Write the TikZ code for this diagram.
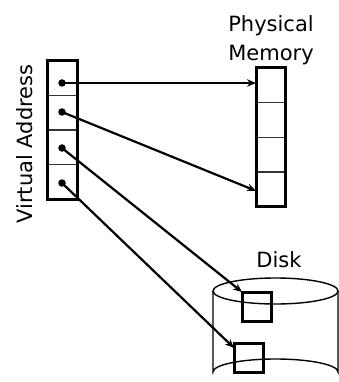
\documentclass[tikz,border=0pt]{standalone}
\usepackage{fontspec}
\setmainfont{DejaVu Sans}
\usetikzlibrary{arrows.meta,calc}
\begin{document}
\begin{tikzpicture}[x=1pt,y=-1pt,
  cell/.style={draw=black!80,line width=1.1pt,minimum width=30pt,minimum height=34.5pt,inner sep=0pt,outer sep=0pt,anchor=north west},
  frame/.style={draw,line width=3pt},
  ptr/.style={line width=2.2pt,-{Stealth[length=9pt,width=7.5pt]}},
  dot/.style={circle,fill,inner sep=0pt,minimum size=7.5pt},
  lbl/.style={font=\fontsize{21}{29}\selectfont,inner sep=0pt},
  blk/.style={draw,line width=3pt,minimum width=29pt,minimum height=29pt,inner sep=0pt,outer sep=0pt,anchor=north west}]
\useasboundingbox (0,0) rectangle (339,382);
% virtual address cells
\node[cell] (v1) at (47,61) {};
\node[cell] (v2) at (47,95.5) {};
\node[cell] (v3) at (47,130) {};
\node[cell] (v4) at (47,164.5) {};
\draw[frame] (v1.north west) rectangle (v4.south east);
\node[dot] (d1) at (62,83) {};
\node[dot] (d2) at (62,112) {};
\node[dot] (d3) at (62,148) {};
\node[dot] (d4) at (62,183) {};
\node[lbl,rotate=90] (va) at (25,144) {Virtual Address};
% physical memory
\node[cell,minimum width=29pt] (m1) at (256,68) {};
\node[cell,minimum width=29pt] (m2) at (256,102.75) {};
\node[cell,minimum width=29pt] (m3) at (256,137.5) {};
\node[cell,minimum width=29pt] (m4) at (256,172.25) {};
\draw[frame] (m1.north west) rectangle (m4.south east);
\node[lbl,align=center] (pm) at (271,40) {Physical\\Memory};
% disk
\draw[line width=1.4pt] (213,291) arc[start angle=180,end angle=360,x radius=62.5,y radius=-13]
  arc[start angle=0,end angle=180,x radius=62.5,y radius=-13];
\draw[line width=1.4pt] (213,291) -- (213,372) arc[start angle=180,end angle=360,x radius=62.5,y radius=13] -- (338,291);
\node[lbl] (dk) at (279,259.5) {Disk};
\node[blk] (s1) at (242,292) {};
\node[blk] (s2) at (234,343) {};
% pointers
\coordinate (t2) at ($(m4.north west)!0.54!(m4.south west)$);
\coordinate (t4) at ($(s2.north west)!0.17!(s2.south west)$);
\draw[ptr] (d1.center) -- (d1.center -| m1.west);
\draw[ptr] (d2.center) -- (t2);
\draw[ptr] (d3.center) -- (s1.north west);
\draw[ptr] (d4.center) -- (t4);
\end{tikzpicture}
\end{document}
